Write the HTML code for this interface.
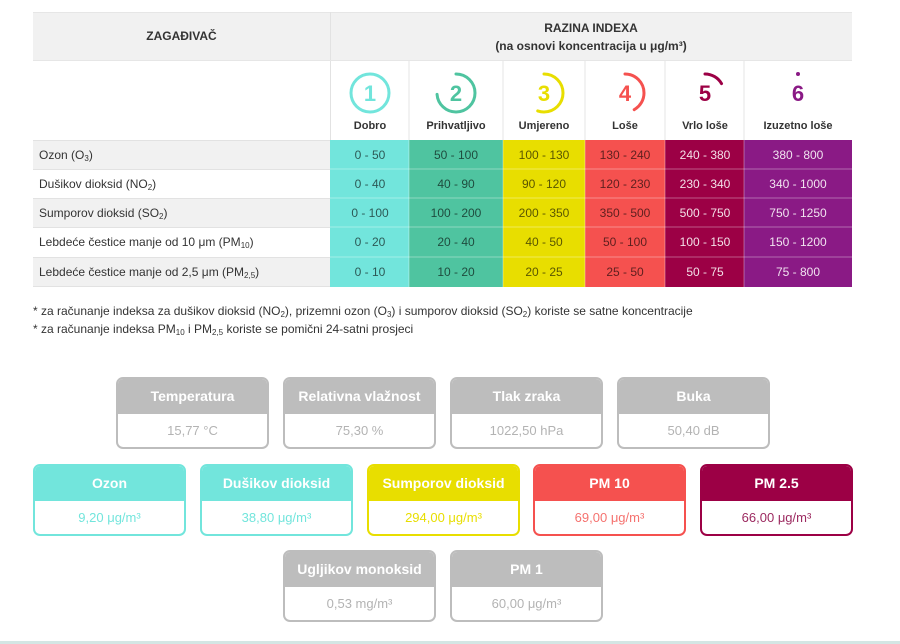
<!DOCTYPE html>
<html><head><meta charset="utf-8"><style>
*{margin:0;padding:0;box-sizing:border-box}
body{width:900px;height:644px;background:#fff;position:relative;overflow:hidden;font-family:"Liberation Sans",sans-serif;color:#333}
.a{position:absolute}
.c{display:flex;align-items:center;justify-content:center;text-align:center}
.hd{font-family:"Liberation Sans Narrow","Liberation Sans",sans-serif;font-weight:bold;font-size:12px;color:#333}
.row{position:absolute;left:33px;width:819px;height:29px;border-top:1px solid #e2e2e2}
.lab{position:absolute;left:6px;top:0;height:29px;line-height:29px;font-size:12px;color:#333}
.cell{position:absolute;top:0;height:29px;line-height:29px;text-align:center;font-size:12px}
.lt{color:rgba(0,0,0,.6)}.dk{color:rgba(255,255,255,.85)}
.card{position:absolute;width:153px;height:72px;border:2px solid #bdbdbd;border-radius:7px;overflow:hidden;background:#fff}
.card .h{height:35px;line-height:34px;text-align:center;color:#fff;font-weight:bold;font-size:14px}
.card .v{height:35px;line-height:33px;text-align:center;font-size:13px;color:#b3b3b3}
sub{font-size:8px;vertical-align:-2px;line-height:0}
.lvl{font-size:11px;font-weight:bold;color:#333;position:absolute;top:119px;width:100%;text-align:center}
</style></head><body>
<!-- header -->
<div class="a" style="left:33px;top:12px;width:819px;height:48px;background:#f1f1f1;border-top:1px solid #e6e6e6"></div>
<div class="a" style="left:330px;top:12px;width:1px;height:128px;background:#e2e2e2"></div>
<div class="a c hd" style="left:33px;top:12px;width:297px;height:48px">ZAGAĐIVAČ</div>
<div class="a c hd" style="left:330px;top:14px;width:522px;height:46px;line-height:18px">RAZINA INDEXA<br>(na osnovi koncentracija u μg/m³)</div>
<div class="a" style="left:33px;top:60px;width:819px;height:80px;border-top:1px solid #e6e6e6"></div>
<!-- icon columns -->
<svg class="a" style="left:0;top:0" width="900" height="140">
<g stroke="#e6e6e6"><line x1="409" y1="60" x2="409" y2="140"/><line x1="503" y1="60" x2="503" y2="140"/><line x1="585" y1="60" x2="585" y2="140"/><line x1="665" y1="60" x2="665" y2="140"/><line x1="744" y1="60" x2="744" y2="140"/></g>
<g fill="none" stroke-width="3" stroke-linecap="round">
<circle cx="370" cy="93" r="19" stroke="#72e5dc"/>
<circle cx="456" cy="93" r="19" stroke="#4fc4a0" stroke-dasharray="88 200" transform="rotate(-90 456 93)"/>
<circle cx="544" cy="93" r="19" stroke="#e8de00" stroke-dasharray="66 200" transform="rotate(-90 544 93)"/>
<circle cx="625" cy="93" r="19" stroke="#f5514f" stroke-dasharray="50 200" transform="rotate(-90 625 93)"/>
<circle cx="705" cy="93" r="19" stroke="#9c0045" stroke-dasharray="20 200" transform="rotate(-90 705 93)"/>
</g>
<circle cx="798" cy="74" r="2" fill="#8a1a85"/>
<g font-family="Liberation Sans" font-weight="bold" font-size="22" text-anchor="middle">
<text x="370" y="101" fill="#72e5dc">1</text><text x="456" y="101" fill="#4fc4a0">2</text><text x="544" y="101" fill="#e8de00">3</text><text x="625" y="101" fill="#f5514f">4</text><text x="705" y="101" fill="#9c0045">5</text><text x="798" y="101" fill="#8a1a85">6</text>
</g>
<g font-family="Liberation Sans" font-weight="bold" font-size="11" fill="#333" text-anchor="middle">
<text x="370" y="129">Dobro</text><text x="456" y="129">Prihvatljivo</text><text x="544" y="129">Umjereno</text><text x="625" y="129">Loše</text><text x="705" y="129">Vrlo loše</text><text x="798" y="129">Izuzetno loše</text>
</g>
</svg>
<!-- data rows -->
<div class="row" style="top:140px;background:#f1f1f1"><div class="lab">Ozon (O<sub>3</sub>)</div></div>
<div class="row" style="top:169px;background:#fff"><div class="lab">Dušikov dioksid (NO<sub>2</sub>)</div></div>
<div class="row" style="top:198px;background:#f1f1f1"><div class="lab">Sumporov dioksid (SO<sub>2</sub>)</div></div>
<div class="row" style="top:227px;background:#fff"><div class="lab">Lebdeće čestice manje od 10 μm (PM<sub>10</sub>)</div></div>
<div class="row" style="top:257px;background:#f1f1f1;border-bottom:1px solid #e2e2e2;height:30px"><div class="lab">Lebdeće čestice manje od 2,5 μm (PM<sub>2,5</sub>)</div></div>
<div id="cols"></div>
<svg class="a" style="left:0;top:140px" width="900" height="147" font-family="Liberation Sans" font-size="12" text-anchor="middle">
<rect x="330" y="0" width="79" height="147" fill="#72e5dc"/>
<rect x="409" y="0" width="94" height="147" fill="#4fc4a0"/>
<rect x="503" y="0" width="82" height="147" fill="#e8de00"/>
<rect x="585" y="0" width="80" height="147" fill="#f5514f"/>
<rect x="665" y="0" width="79" height="147" fill="#9c0045"/>
<rect x="744" y="0" width="108" height="147" fill="#8a1a85"/>
<g stroke="rgba(255,255,255,.35)"><line x1="330" x2="852" y1="29" y2="29"/><line x1="330" x2="852" y1="58" y2="58"/><line x1="330" x2="852" y1="87" y2="87"/><line x1="330" x2="852" y1="117" y2="117"/>
<line x1="409" x2="409" y1="0" y2="147"/><line x1="503" x2="503" y1="0" y2="147"/><line x1="585" x2="585" y1="0" y2="147"/><line x1="665" x2="665" y1="0" y2="147"/><line x1="744" x2="744" y1="0" y2="147"/></g>
<g fill="rgba(0,0,0,.62)">
<text x="370" y="19">0 - 50</text><text x="456" y="19">50 - 100</text><text x="544" y="19">100 - 130</text><text x="625" y="19">130 - 240</text>
<text x="370" y="48">0 - 40</text><text x="456" y="48">40 - 90</text><text x="544" y="48">90 - 120</text><text x="625" y="48">120 - 230</text>
<text x="370" y="77">0 - 100</text><text x="456" y="77">100 - 200</text><text x="544" y="77">200 - 350</text><text x="625" y="77">350 - 500</text>
<text x="370" y="106">0 - 20</text><text x="456" y="106">20 - 40</text><text x="544" y="106">40 - 50</text><text x="625" y="106">50 - 100</text>
<text x="370" y="136">0 - 10</text><text x="456" y="136">10 - 20</text><text x="544" y="136">20 - 25</text><text x="625" y="136">25 - 50</text>
</g>
<g fill="rgba(255,255,255,.88)">
<text x="705" y="19">240 - 380</text><text x="798" y="19">380 - 800</text>
<text x="705" y="48">230 - 340</text><text x="798" y="48">340 - 1000</text>
<text x="705" y="77">500 - 750</text><text x="798" y="77">750 - 1250</text>
<text x="705" y="106">100 - 150</text><text x="798" y="106">150 - 1200</text>
<text x="705" y="136">50 - 75</text><text x="798" y="136">75 - 800</text>
</g>
</svg>
<div class="a" style="left:33px;top:302px;font-size:12px;color:#333;line-height:18px">* za računanje indeksa za dušikov dioksid (NO<sub>2</sub>), prizemni ozon (O<sub>3</sub>) i sumporov dioksid (SO<sub>2</sub>) koriste se satne koncentracije<br>* za računanje indeksa PM<sub>10</sub> i PM<sub>2,5</sub> koriste se pomični 24-satni prosjeci</div>
<!-- cards -->
<div class="card" style="left:116px;top:377px"><div class="h" style="background:#bdbdbd">Temperatura</div><div class="v">15,77 °C</div></div>
<div class="card" style="left:283px;top:377px"><div class="h" style="background:#bdbdbd">Relativna vlažnost</div><div class="v">75,30 %</div></div>
<div class="card" style="left:450px;top:377px"><div class="h" style="background:#bdbdbd">Tlak zraka</div><div class="v">1022,50 hPa</div></div>
<div class="card" style="left:617px;top:377px"><div class="h" style="background:#bdbdbd">Buka</div><div class="v">50,40 dB</div></div>
<div class="card" style="left:33px;top:464px;border-color:#72e5dc"><div class="h" style="background:#72e5dc">Ozon</div><div class="v" style="color:#72e5dc">9,20 μg/m³</div></div>
<div class="card" style="left:200px;top:464px;border-color:#72e5dc"><div class="h" style="background:#72e5dc">Dušikov dioksid</div><div class="v" style="color:#72e5dc">38,80 μg/m³</div></div>
<div class="card" style="left:367px;top:464px;border-color:#e8de00"><div class="h" style="background:#e8de00">Sumporov dioksid</div><div class="v" style="color:#e8de00">294,00 μg/m³</div></div>
<div class="card" style="left:533px;top:464px;border-color:#f5514f"><div class="h" style="background:#f5514f">PM 10</div><div class="v" style="color:#f5726f">69,00 μg/m³</div></div>
<div class="card" style="left:700px;top:464px;border-color:#9c0045"><div class="h" style="background:#9c0045">PM 2.5</div><div class="v" style="color:#9c2a60">66,00 μg/m³</div></div>
<div class="card" style="left:283px;top:550px"><div class="h" style="background:#bdbdbd">Ugljikov monoksid</div><div class="v">0,53 mg/m³</div></div>
<div class="card" style="left:450px;top:550px"><div class="h" style="background:#bdbdbd">PM 1</div><div class="v">60,00 μg/m³</div></div>
<div class="a" style="left:0;top:641px;width:900px;height:3px;background:#d4e6e4"></div>
</body></html>
